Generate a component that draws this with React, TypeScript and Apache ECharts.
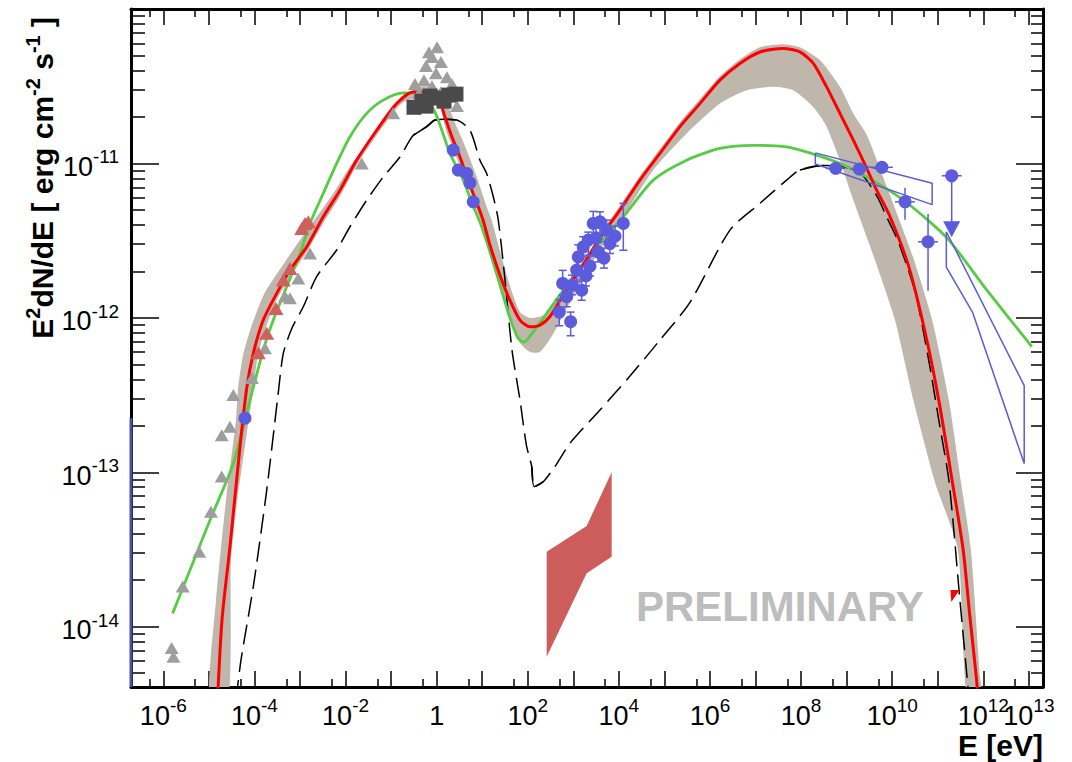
import React, { useEffect, useRef } from "react";
import * as echarts from "echarts";

const FONT = "'Liberation Sans', Arial, Helvetica, sans-serif";

// ---- axis ranges ----
const E_MIN = 1.95e-7;
const E_MAX = 2.04e13;
const F_MIN = 4.07e-15;
const F_MAX = 1.0e-10;

// ---- ticks & labels ----
const xMajorTicks = [1e-6, 1e-5, 1e-4, 1e-3, 1e-2, 1e-1, 1, 1e1, 1e2, 1e3, 1e4, 1e5, 1e6, 1e7, 1e8, 1e9, 1e10, 1e11, 1e12, 1e13];
const xMinorTicks = [5e-7, 5e-6, 5e-5, 5e-4, 5e-3, 5e-2, 0.5, 5, 50, 500, 5e3, 5e4, 5e5, 5e6, 5e7, 5e8, 5e9, 5e10, 5e11, 5e12];
const xLabelValues = [1e-6, 1e-4, 1e-2, 1, 1e2, 1e4, 1e6, 1e8, 1e10, 1e13];
const xLabelValuesExtra = [1e12]; // drawn on its own axis: it overlaps 10^13 as in the original
const yMajorTicks = [1e-14, 1e-13, 1e-12, 1e-11];
const yLabelValues = [1e-14, 1e-13, 1e-12, 1e-11];
const yMinorTicks = [
  5e-15, 6e-15, 7e-15, 8e-15, 9e-15,
  2e-14, 3e-14, 4e-14, 5e-14, 6e-14, 7e-14, 8e-14, 9e-14,
  2e-13, 3e-13, 4e-13, 5e-13, 6e-13, 7e-13, 8e-13, 9e-13,
  2e-12, 3e-12, 4e-12, 5e-12, 6e-12, 7e-12, 8e-12, 9e-12,
  2e-11, 3e-11, 4e-11, 5e-11, 6e-11, 7e-11, 8e-11, 9e-11,
];

// ---- model curves [E (eV), E^2 dN/dE (erg cm^-2 s^-1)] ----
const redModel = [
  [1.51e-5, 2.89e-15], [1.94e-5, 1.11e-14], [2.9e-5, 3.3e-14], [4.82e-5, 1.47e-13], [6.76e-5, 3.5e-13],
  [9.44e-5, 5.89e-13], [1.56e-4, 9.68e-13], [3.08e-4, 1.44e-12], [6.03e-4, 2.04e-12], [1.4e-3, 2.88e-12],
  [3.24e-3, 4.51e-12], [7.55e-3, 6.71e-12], [1.75e-2, 1.05e-11], [4.82e-2, 1.64e-11], [0.132, 2.44e-11],
  [0.306, 2.9e-11], [0.43, 2.9e-11], [0.713, 2.81e-11], [1.07, 2.69e-11], [1.52, 2.0e-11],
  [2.17, 1.48e-11], [3.25, 1.1e-11], [4.86, 7.8e-12], [7.67, 5.53e-12], [10.4, 4.3e-12],
  [14.8, 2.96e-12], [24.5, 1.89e-12], [40.6, 1.3e-12], [67.5, 9.68e-13], [112, 8.75e-13],
  [185, 8.97e-13], [307, 1.02e-12], [655, 1.47e-12], [1800, 2.3e-12], [3840, 3.28e-12],
  [1.05e4, 4.99e-12], [2.9e4, 7.8e-12], [7.96e4, 1.16e-11], [2.19e5, 1.73e-11], [6.01e5, 2.44e-11],
  [1.65e6, 3.46e-11], [4.54e6, 4.44e-11], [1.25e7, 5.27e-11], [4.06e7, 5.55e-11], [9.42e7, 5.27e-11],
  [1.85e8, 4.44e-11], [3.63e8, 3.13e-11], [7.11e8, 2.11e-11], [1.39e9, 1.42e-11], [2.74e9, 9.33e-12],
  [4.55e9, 6.71e-12], [8.47e9, 4.69e-12], [2.27e10, 2.18e-12], [5.32e10, 7.98e-13], [1.06e11, 2.89e-13],
  [2.09e11, 8.65e-14], [3.61e11, 3.14e-14], [5.07e11, 1.16e-14], [7.11e11, 4.53e-15], [7.59e11, 3.36e-15],
];

const greenModel = [
  [1.6e-6, 1.22e-14], [3.85e-6, 2.33e-14], [1.06e-5, 4.91e-14], [3.44e-5, 1.14e-13], [7.33e-5, 2.66e-13],
  [1.56e-4, 6.19e-13], [2.59e-4, 9.68e-13], [5.1e-4, 1.59e-12], [1.0e-3, 2.61e-12], [1.66e-3, 4.09e-12],
  [3.24e-3, 6.4e-12], [6.38e-3, 1.0e-11], [1.25e-2, 1.49e-11], [2.91e-2, 2.11e-11], [6.73e-2, 2.57e-11],
  [0.185, 2.86e-11], [0.364, 2.84e-11], [0.644, 2.57e-11], [1.02, 2.0e-11], [1.96, 1.16e-11],
  [3.84, 7.8e-12], [5.96, 5.53e-12], [8.91, 4.17e-12], [14.8, 2.67e-12], [24.5, 1.63e-12],
  [40.6, 9.98e-13], [60.8, 7.41e-13], [82.4, 6.97e-13], [130, 8.09e-13], [238, 1.03e-12],
  [509, 1.41e-12], [1400, 2.1e-12], [3840, 3.05e-12], [1.25e4, 4.51e-12], [5.68e4, 7.8e-12],
  [3.07e5, 1.05e-11], [1.65e6, 1.25e-11], [8.89e6, 1.31e-11], [4.81e7, 1.28e-11], [1.85e8, 1.15e-11],
  [7.11e8, 1.0e-11], [2.74e9, 8.18e-12], [1.9e10, 5.69e-12], [1.62e11, 3.27e-12], [1.16e12, 1.53e-12],
  [1.16e13, 6.5e-13],
];

const dashedModel = [
  [3.94e-5, 3.36e-15], [5.07e-5, 6.1e-15], [9.44e-5, 1.82e-14], [1.86e-4, 7.67e-14], [3.29e-4, 3.16e-13],
  [4.3e-4, 5.89e-13], [6.67e-4, 8.59e-13], [1.18e-3, 1.18e-12], [2.32e-3, 1.85e-12], [6.38e-3, 2.75e-12],
  [1.25e-2, 3.89e-12], [2.91e-2, 5.78e-12], [6.73e-2, 8.18e-12], [0.156, 1.1e-11], [0.306, 1.52e-11],
  [0.604, 1.73e-11], [0.918, 1.91e-11], [1.52, 1.93e-11], [2.75, 1.91e-11], [5.38, 1.64e-11],
  [8.91, 1.05e-11], [12.5, 8.61e-12], [17.5, 6.08e-12], [22.5, 4.3e-12], [31.6, 1.76e-12],
  [45.0, 6.19e-13], [67.5, 2.93e-13], [93.1, 1.5e-13], [122, 1.09e-13], [139, 8.07e-14],
  [219, 8.69e-14], [395, 1.09e-13], [843, 1.54e-13], [3840, 2.53e-13], [1.75e4, 4.2e-13],
  [7.96e4, 7.18e-13], [3.63e5, 1.26e-12], [2.74e6, 3.7e-12], [1.25e7, 5.51e-12], [4.81e7, 7.8e-12],
  [9.42e7, 9.06e-12], [3.16e8, 9.68e-12], [7.11e8, 9.62e-12], [1.74e9, 8.97e-12], [2.74e9, 7.8e-12],
  [4.85e9, 5.98e-12], [7.53e9, 4.51e-12], [1.36e10, 3.11e-12], [3.2e10, 1.46e-12], [6.32e10, 5.32e-13],
  [1.06e11, 2.15e-13], [1.77e11, 8.65e-14], [3.06e11, 1.49e-14], [4.59e11, 4.08e-15], [5.07e11, 2.9e-15],
];
// energy ranges where the black model line is drawn solid
const solidRanges = [[0.3, 2.8], [120, 220], [9.0e7, 1.8e9]];

// ---- uncertainty band edges, [log10 E, log10 flux] ----
const bandUpperLog = [
  [-4.991, -14.474], [-4.844, -13.827], [-4.625, -13.179], [-4.405, -12.661], [-4.36, -12.454],
  [-4.25, -12.241], [-4.07, -12.058], [-3.78, -11.841], [-3.35, -11.647], [-3.0, -11.496],
  [-2.634, -11.346], [-2.27, -11.194], [-1.903, -11.022], [-1.464, -10.849], [-1.025, -10.676],
  [-0.658, -10.558], [-0.439, -10.506], [-0.147, -10.504], [0.116, -10.539], [0.439, -10.763],
  [0.658, -10.914], [0.878, -11.087], [1.097, -11.281], [1.207, -11.367], [1.455, -11.639],
  [1.653, -11.833], [1.828, -11.962], [2.048, -12.001], [2.311, -11.988], [2.531, -11.937],
  [2.816, -11.807], [3.255, -11.613], [3.584, -11.458], [4.023, -11.276], [4.462, -11.082],
  [4.901, -10.907], [5.34, -10.733], [5.779, -10.584], [6.218, -10.435], [6.657, -10.325],
  [7.096, -10.247], [7.601, -10.228], [7.974, -10.247], [8.413, -10.331], [8.852, -10.504],
  [9.144, -10.676], [9.445, -10.817], [9.95, -11.205], [10.468, -11.617], [10.876, -12.012],
  [11.245, -12.537], [11.508, -13.063], [11.727, -13.503], [11.925, -14.323], [11.969, -14.474],
];
const bandLowerLog = [
  [11.64, -14.474], [11.442, -13.503], [10.937, -13.063], [10.468, -12.537], [10.059, -12.012],
  [9.611, -11.617], [9.129, -11.223], [8.852, -10.979], [8.545, -10.752], [8.266, -10.634],
  [7.827, -10.526], [7.388, -10.504], [6.804, -10.526], [6.218, -10.612], [5.487, -10.806],
  [4.754, -11.043], [4.089, -11.348], [3.584, -11.561], [3.255, -11.723], [2.816, -11.962],
  [2.531, -12.118], [2.267, -12.221], [2.048, -12.221], [1.828, -12.163], [1.653, -12.047],
  [1.499, -11.885], [1.345, -11.729], [1.17, -11.574], [1.016, -11.406], [0.863, -11.289],
  [0.643, -11.108], [0.424, -10.953], [0.204, -10.784], [0.072, -10.629], [-0.147, -10.584],
  [-0.41, -10.571], [-0.696, -10.597], [-0.878, -10.642], [-1.317, -10.817], [-1.756, -11.011],
  [-2.122, -11.212], [-2.489, -11.386], [-2.853, -11.574], [-3.22, -11.736], [-3.512, -11.885],
  [-3.747, -12.06], [-3.922, -12.241], [-4.061, -12.532], [-4.377, -13.179], [-4.515, -13.568],
  [-4.57, -14.474],
];

// ---- data points ----
const greyTriangles = [
  [1.52e-6, 7.29e-15], [1.66e-6, 6.4e-15], [2.66e-6, 1.82e-14], [6.15e-6, 3.06e-14], [1.11e-5, 5.56e-14],
  [1.91e-5, 9.38e-14], [1.91e-5, 1.74e-13], [2.9e-5, 1.97e-13], [3.44e-5, 3.16e-13], [8.83e-5, 4.08e-13],
  [1.7e-4, 6.35e-13], [4.68e-4, 1.38e-12], [6.03e-4, 1.34e-12], [9.16e-4, 1.8e-12], [1.66e-3, 2.61e-12],
  [2.26e-2, 1.0e-11], [0.111, 2.11e-11], [0.334, 3.27e-11],
  [1.02, 5.66e-11], [0.789, 4.88e-11], [0.582, 4.27e-11], [1.24, 4.53e-11], [0.966, 3.84e-11],
  [0.526, 3.46e-11], [1.68, 3.62e-11], [2.17, 3.26e-11], [0.789, 3.16e-11], [0.408, 2.85e-11],
  [2.17, 2.77e-11], [1.24, 2.89e-11], [2.79, 2.35e-11], [0.678, 5.25e-11],
];
const redTriangles = [
  [1.29e-3, 4.09e-12], [1.09e-3, 3.79e-12], [1.52e-3, 4.19e-12], [6.03e-4, 2.09e-12],
  [4.3e-4, 1.76e-12], [2.97e-4, 1.15e-12], [1.86e-4, 7.94e-13], [1.21e-4, 5.94e-13],
];
const darkSquares = [
  [0.318, 2.31e-11], [0.475, 2.53e-11], [0.713, 2.73e-11], [1.02, 2.65e-11],
  [1.45, 2.53e-11], [1.86, 2.77e-11], [2.65, 2.81e-11], [0.582, 2.35e-11],
];
const blueOptical = [
  [2.31, 1.22e-11], [2.98, 9.06e-12], [4.55, 8.61e-12], [5.38, 7.48e-12], [6.35, 5.64e-12], [6.19e-5, 2.24e-13],
];
// [E, flux, fluxLow, fluxHigh]
const blueXray = [
  [491, 1.09e-12, 8.89e-13, 1.31e-12], [873, 9.44e-13, 7.66e-13, 1.09e-12], [583, 1.67e-12, 1.4e-12, 2.03e-12],
  [713, 1.37e-12, 1.18e-12, 1.59e-12], [1183, 2.04e-12, 1.71e-12, 2.44e-12], [1523, 1.51e-12, 1.3e-12, 1.76e-12],
  [1282, 2.48e-12, 2.08e-12, 2.97e-12], [1651, 2.88e-12, 2.48e-12, 3.35e-12], [2125, 3.19e-12, 2.55e-12, 3.59e-12],
  [2735, 4.09e-12, 3.32e-12, 4.89e-12], [3840, 4.19e-12, 3.5e-12, 4.86e-12], [5383, 3.7e-12, 3.1e-12, 4.3e-12],
  [6368, 3.03e-12, 2.61e-12, 3.52e-12], [1.25e4, 4.09e-12, 2.74e-12, 5.51e-12], [2317, 2.16e-12, 1.87e-12, 2.51e-12],
  [3467, 2.67e-12, 2.3e-12, 3.1e-12], [4699, 2.44e-12, 2.1e-12, 2.83e-12], [8204, 3.38e-12, 2.92e-12, 3.93e-12],
  [1892, 1.87e-12, 1.61e-12, 2.16e-12], [933, 1.63e-12, 1.41e-12, 1.89e-12], [3141, 3.3e-12, 2.75e-12, 3.81e-12],
];
// [E, flux, Elow, Ehigh, fluxLow, fluxHigh]
const blueGamma = [
  [5.73e8, 9.29e-12, 3.5e8, 9.4e8, 8.9e-12, 9.7e-12],
  [1.9e9, 9.19e-12, 1.2e9, 3.0e9, 8.8e-12, 9.6e-12],
  [5.94e9, 9.44e-12, 3.42e9, 1.03e10, 9.0e-12, 9.9e-12],
  [1.91e10, 5.64e-12, 1.15e10, 3.17e10, 4.32e-12, 6.97e-12],
  [6.11e10, 3.11e-12, 3.68e10, 1.01e11, 1.5e-12, 4.7e-12],
  [2.02e11, 8.32e-12, 1.22e11, 3.35e11, 3.7e-12, 8.32e-12],
];
const blueUpperLimit = [[2.02e11, 3.75e-12]];
const butterflyGeV = [[2.05e8, 1.17e-11], [7.52e10, 7.45e-12], [7.52e10, 5.41e-12], [2.05e8, 9.91e-12], [2.05e8, 1.17e-11]];
const butterflyTeV = [[1.54e11, 3.61e-12], [7.89e12, 3.64e-13], [7.89e12, 1.14e-13], [5.85e11, 1.08e-12], [1.54e11, 2.13e-12], [1.54e11, 3.61e-12]];
const redButterfly = [[260, 3.06e-14], [1961, 4.49e-14], [6934, 1.0e-13], [6934, 2.84e-14], [1961, 2.22e-14], [260, 6.4e-15]];
const redLimit = [[2.38e11, 1.58e-14]];
const blueEdge = [[1.95e-7, 2.24e-13], [1.95e-7, 4.07e-15]];

// ---- colours ----
const C_BAND = "#bfb6ac";
const C_RED = "#ff0000";
const C_GREEN = "#55cc44";
const C_BLUE = "#5b5bdc";
const C_GREY = "#9e9e9e";
const C_REDTRI = "#d05f5f";
const C_SQUARE = "#4a4a4a";
const C_REDPOLY = "#cd5c5c";

const supLabel = (v: number) => {
  const e = Math.round(Math.log10(v));
  return e === 0 ? "{b|1}" : `{b|10}{s|${e}}`;
};
const richLabel = {
  b: { fontFamily: FONT, fontSize: 27, lineHeight: 39, color: "#000" },
  s: { fontFamily: FONT, fontSize: 19, lineHeight: 19, verticalAlign: "top", color: "#000" },
};
const tickStyle = { color: "#000", width: 1.5 };

function logAxis(min: number, max: number, extra: any) {
  return {
    type: "log",
    logBase: 10,
    min,
    max,
    splitLine: { show: false },
    minorTick: { show: false },
    minorSplitLine: { show: false },
    axisLine: { show: false, onZero: false },
    axisTick: { show: false },
    axisLabel: { show: false },
    ...extra,
  };
}

function buildOption() {
  const band = [...bandUpperLog, ...bandLowerLog].map(([a, b]) => [Math.pow(10, a), Math.pow(10, b)]);
  const frame = { show: true, onZero: false, lineStyle: { color: "#000", width: 3 } };
  const labelBase = { show: true, formatter: supLabel, rich: richLabel, hideOverlap: false, showMinLabel: true, showMaxLabel: true };

  const xAxis = [
    logAxis(E_MIN, E_MAX, {
      position: "bottom",
      axisLine: frame,
      axisTick: { show: true, inside: true, length: 16, customValues: xMajorTicks, lineStyle: tickStyle },
      axisLabel: { ...labelBase, customValues: xLabelValues, margin: 9 },
    }),
    logAxis(E_MIN, E_MAX, {
      position: "bottom",
      axisTick: { show: true, inside: true, length: 8, customValues: xMinorTicks, lineStyle: tickStyle },
    }),
    logAxis(E_MIN, E_MAX, {
      position: "top",
      axisLine: frame,
      axisTick: { show: true, inside: true, length: 16, customValues: xMajorTicks, lineStyle: tickStyle },
    }),
    logAxis(E_MIN, E_MAX, {
      position: "top",
      axisTick: { show: true, inside: true, length: 8, customValues: xMinorTicks, lineStyle: tickStyle },
    }),
    logAxis(E_MIN, E_MAX, {
      position: "bottom",
      axisLabel: { ...labelBase, customValues: xLabelValuesExtra, margin: 9 },
    }),
  ];
  const yAxis = [
    logAxis(F_MIN, F_MAX, {
      position: "left",
      axisLine: frame,
      axisTick: { show: true, inside: true, length: 28, customValues: yMajorTicks, lineStyle: tickStyle },
      axisLabel: { ...labelBase, customValues: yLabelValues, margin: 12, padding: [7, 0, 0, 0] },
    }),
    logAxis(F_MIN, F_MAX, {
      position: "left",
      axisTick: { show: true, inside: true, length: 14, customValues: yMinorTicks, lineStyle: tickStyle },
    }),
    logAxis(F_MIN, F_MAX, {
      position: "right",
      axisLine: frame,
      axisTick: { show: true, inside: true, length: 27, customValues: yMajorTicks, lineStyle: tickStyle },
    }),
    logAxis(F_MIN, F_MAX, {
      position: "right",
      axisTick: { show: true, inside: true, length: 12, customValues: yMinorTicks, lineStyle: tickStyle },
    }),
  ];

  const polygonSeries = (pts: number[][], z: number, style: any, smooth = 0) => ({
    type: "custom",
    z,
    clip: true,
    silent: true,
    data: [[1, 1e-12]],
    encode: { x: 0, y: 1 },
    renderItem: (_p: any, api: any) => ({
      type: "polygon",
      shape: { points: pts.map((p) => api.coord(p)), smooth },
      style,
    }),
  });

  const lineSeries = (data: number[][], z: number, color: string, width: number, extra: any = {}) => ({
    type: "line",
    z,
    data,
    showSymbol: false,
    symbol: "none",
    silent: true,
    clip: true,
    smooth: 0.25,
    lineStyle: { color, width },
    ...extra,
  });

  const scatter = (data: number[][], z: number, symbol: string, size: any, color: string, extra: any = {}) => ({
    type: "scatter",
    z,
    data,
    symbol,
    symbolSize: size,
    silent: true,
    itemStyle: { color, opacity: 1 },
    ...extra,
  });

  const solidParts = solidRanges.map(([lo, hi]) =>
    lineSeries(dashedModel.filter(([e]) => e >= lo && e <= hi), 3, "#000", 1.5)
  );

  return {
    animation: false,
    backgroundColor: "#fff",
    textStyle: { fontFamily: FONT },
    grid: { left: 131, top: 9, width: 912, height: 678, containLabel: false, outerBoundsMode: "none" },
    xAxis,
    yAxis,
    graphic: [
      {
        type: "text",
        x: 636,
        y: 606,
        z: 0,
        silent: true,
        style: { text: "PRELIMINARY", fontFamily: FONT, fontSize: 42, fontWeight: "bold", fill: "#bdbdbd", verticalAlign: "middle" },
      },
      {
        type: "text",
        x: 1043,
        y: 745,
        silent: true,
        style: { text: "E [eV]", fontFamily: FONT, fontSize: 30, fontWeight: "bold", fill: "#000", align: "right", verticalAlign: "middle" },
      },
      {
        type: "text",
        x: 42,
        y: 17,
        rotation: Math.PI / 2,
        silent: true,
        style: {
          text: "{b|E}{s|2}{b|dN/dE [ erg cm}{s|-2}{b| s}{s|-1}{b| ]}",
          align: "right",
          verticalAlign: "middle",
          rich: {
            b: { fontFamily: FONT, fontSize: 30, fontWeight: "bold", lineHeight: 38, fill: "#000" },
            s: { fontFamily: FONT, fontSize: 20, fontWeight: "bold", lineHeight: 20, verticalAlign: "top", fill: "#000" },
          },
        },
      },
    ],
    series: [
      polygonSeries(band, 1, { fill: C_BAND, stroke: "none" }, 0.2),
      polygonSeries(redButterfly, 2, { fill: C_REDPOLY, stroke: "none" }),
      lineSeries(dashedModel, 3, "#000", 1.5, { lineStyle: { color: "#000", width: 1.5, type: [20, 8] } }),
      ...solidParts,
      lineSeries(greenModel, 4, C_GREEN, 2.8),
      lineSeries(redModel, 5, C_RED, 3),
      scatter(greyTriangles, 6, "triangle", [14, 12], C_GREY),
      scatter(redTriangles, 6, "triangle", [15, 13], C_REDTRI),
      scatter(darkSquares, 7, "rect", 15, C_SQUARE),
      {
        type: "custom",
        z: 8,
        silent: true,
        clip: true,
        data: blueXray,
        encode: { x: 0, y: 1 },
        renderItem: (_p: any, api: any) => {
          const e = api.value(0);
          const lo = api.coord([e, api.value(2)]);
          const hi = api.coord([e, api.value(3)]);
          const st = { stroke: C_BLUE, lineWidth: 1.5 };
          return {
            type: "group",
            children: [
              { type: "line", shape: { x1: lo[0], y1: lo[1], x2: hi[0], y2: hi[1] }, style: st },
              { type: "line", shape: { x1: lo[0] - 4, y1: lo[1], x2: lo[0] + 4, y2: lo[1] }, style: st },
              { type: "line", shape: { x1: hi[0] - 4, y1: hi[1], x2: hi[0] + 4, y2: hi[1] }, style: st },
            ],
          };
        },
      },
      {
        type: "custom",
        z: 8,
        silent: true,
        clip: true,
        data: blueGamma,
        encode: { x: 0, y: 1 },
        renderItem: (_p: any, api: any) => {
          const e = api.value(0);
          const f = api.value(1);
          const l = api.coord([api.value(2), f]);
          const r = api.coord([api.value(3), f]);
          const b = api.coord([e, api.value(4)]);
          const t = api.coord([e, api.value(5)]);
          const st = { stroke: C_BLUE, lineWidth: 1.5 };
          return {
            type: "group",
            children: [
              { type: "line", shape: { x1: l[0], y1: l[1], x2: r[0], y2: r[1] }, style: st },
              { type: "line", shape: { x1: b[0], y1: b[1], x2: t[0], y2: t[1] }, style: st },
            ],
          };
        },
      },
      lineSeries(butterflyGeV, 8, C_BLUE, 1.5, { smooth: false }),
      lineSeries(butterflyTeV, 8, C_BLUE, 1.5, { smooth: false }),
      scatter(blueXray.map((d) => [d[0], d[1]]), 9, "circle", 13, C_BLUE),
      scatter(blueOptical, 9, "circle", 13, C_BLUE),
      scatter(blueGamma.map((d) => [d[0], d[1]]), 9, "circle", 13, C_BLUE),
      scatter(blueUpperLimit, 9, "triangle", [17, 16], C_BLUE, { symbolRotate: 180 }),
      scatter(redLimit, 9, "path://M0 0L10 0L1 14Z", [9, 12], C_RED),
      lineSeries(blueEdge, 9, "#4f4fa8", 3, { smooth: false, clip: false }),
    ],
  };
}

export default function App() {
  const ref = useRef<HTMLDivElement>(null);
  useEffect(() => {
    if (!ref.current) return;
    const chart = echarts.init(ref.current, undefined, { renderer: "svg" });
    chart.setOption(buildOption() as any);
    return () => chart.dispose();
  }, []);
  return (
    <div
      ref={ref}
      style={{ position: "fixed", left: 0, top: 0, width: 1072, height: 762, background: "#fff" }}
    />
  );
}
